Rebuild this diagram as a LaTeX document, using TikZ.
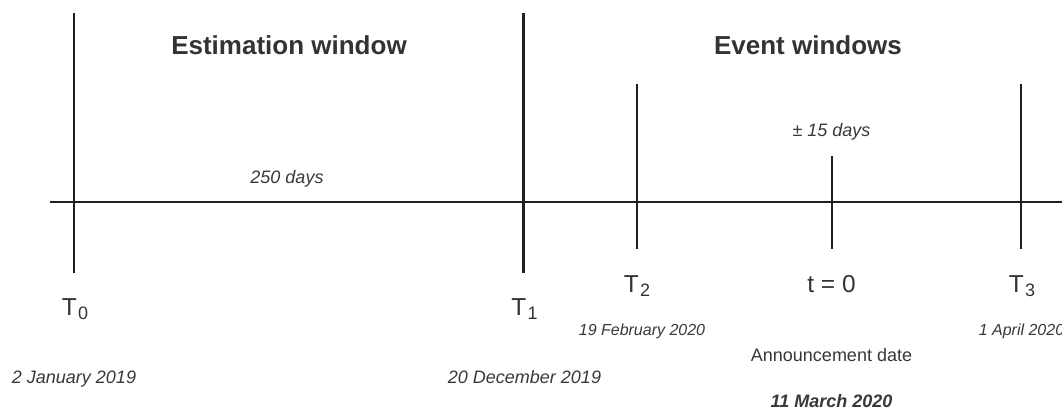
\documentclass[tikz,border=0pt]{standalone}
\usepackage{fontspec}
\setmainfont{Liberation Sans}
\begin{document}
\begin{tikzpicture}[x=1pt,y=-1pt,
  lbl/.style={inner sep=0pt,anchor=base,text=black!78},
  title/.style={lbl,font=\fontsize{26}{30}\selectfont\bfseries,text=black!80},
  note/.style={lbl,font=\fontsize{18}{22}\selectfont\itshape},
  smallnote/.style={lbl,font=\fontsize{16}{19}\selectfont\itshape},
  tlabel/.style={lbl,font=\fontsize{24.5}{28}\selectfont,text=black!80},
  plain/.style={lbl,font=\fontsize{18}{22}\selectfont},
  boldnote/.style={lbl,font=\fontsize{18}{22}\selectfont\bfseries\itshape},
  tick/.style={line width=2pt,draw=black!88},
  bigtick/.style={line width=2.8pt,draw=black!88}]
\useasboundingbox (0,0) rectangle (1062,409);
\newcommand{\Tsub}[1]{T\kern1.5pt\raisebox{-4pt}{\fontsize{18}{20}\selectfont #1}}
% axis
\coordinate (axL) at (50,202);
\coordinate (axR) at (1062,202);
\draw[tick] (axL) -- (axR);
% ticks
\coordinate (t0a) at (73.5,13);  \coordinate (t0b) at (73.5,273);
\coordinate (t1a) at (523.7,13); \coordinate (t1b) at (523.7,273);
\coordinate (t2a) at (637,84);   \coordinate (t2b) at (637,249);
\coordinate (eva) at (832,156);  \coordinate (evb) at (832,249);
\coordinate (t3a) at (1021,84);  \coordinate (t3b) at (1021,249);
\draw[tick] (t0a) -- (t0b);
\draw[bigtick] (t1a) -- (t1b);
\draw[tick] (t2a) -- (t2b);
\draw[tick] (eva) -- (evb);
\draw[tick] (t3a) -- (t3b);
% titles
\node[title] (est) at (289,55) {Estimation window};
\node[title] (evw) at (808,55) {Event windows};
\node[note] (d250) at (287,183) {250 days};
\node[note] (pm15) at (831.5,136) {± 15 days};
% time labels
\node[tlabel] (T0) at (75,315) {\Tsub{0}};
\node[tlabel] (T1) at (524.5,315) {\Tsub{1}};
\node[tlabel] (T2) at (637,292) {\Tsub{2}};
\node[tlabel] (tz) at (831.5,292) {t = 0};
\node[tlabel] (T3) at (1022,292) {\Tsub{3}};
% dates
\node[note] (d0) at (74,383) {2 January 2019};
\node[note] (d1) at (524.5,383) {20 December 2019};
\node[smallnote] (d2) at (642,335) {19 February 2020};
\node[smallnote] (d3) at (1021.5,335) {1 April 2020};
\node[plain] (ann) at (831.5,361) {Announcement date};
\node[boldnote] (dev) at (831.5,407) {11 March 2020};
\end{tikzpicture}
\end{document}
